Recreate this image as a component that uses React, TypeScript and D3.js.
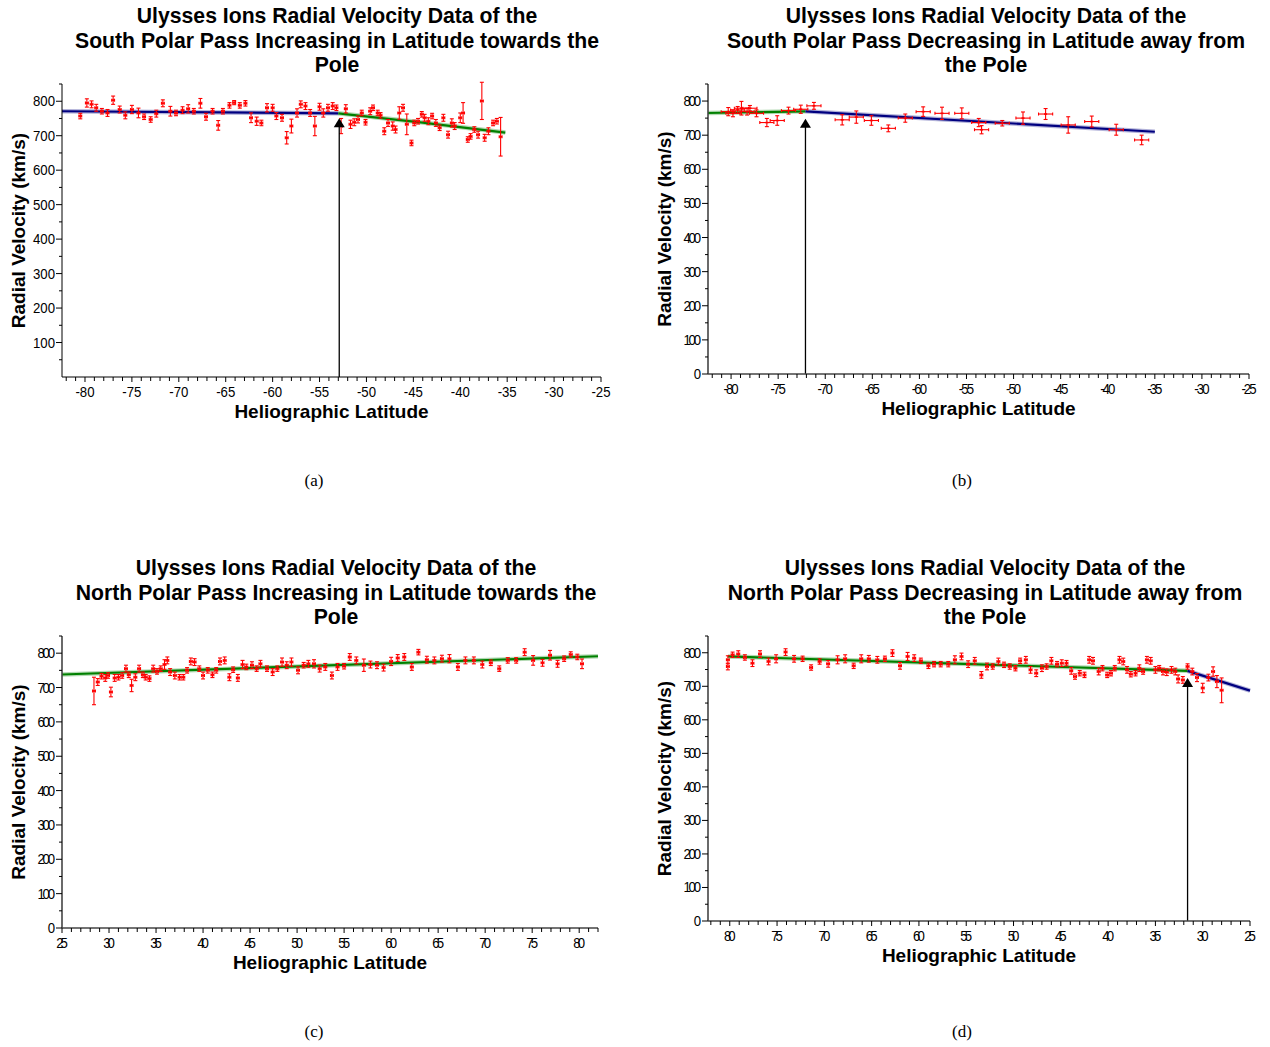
import React from 'react';
import * as d3 from 'd3';

// [latitude, radial velocity (km/s), velocity error]
const southIncreasing: number[][] = [
  [-80.5, 757, 8], [-79.8, 795, 12], [-79.3, 791, 10], [-78.8, 781, 10], [-78.2, 771, 8], [-77.6, 766, 10],
  [-77.0, 803, 12], [-76.3, 776, 10], [-75.7, 759, 10], [-75.0, 776, 12], [-74.3, 766, 14], [-73.7, 755, 8],
  [-73.0, 747, 8], [-72.4, 764, 10], [-71.7, 794, 10], [-70.9, 771, 14], [-70.3, 766, 8], [-69.6, 774, 10],
  [-69.0, 778, 12], [-68.4, 771, 8], [-67.7, 794, 14], [-67.1, 755, 10], [-66.4, 771, 8], [-65.8, 730, 14],
  [-65.3, 771, 8], [-64.6, 788, 8], [-64.1, 796, 6], [-63.5, 788, 8], [-62.9, 794, 8], [-62.3, 752, 14],
  [-61.7, 742, 12], [-61.2, 737, 8], [-60.6, 781, 12], [-60.0, 781, 10], [-59.6, 757, 10], [-59.0, 752, 10],
  [-58.5, 694, 18], [-58.0, 728, 20], [-57.4, 766, 12], [-57.0, 791, 10], [-56.5, 786, 10], [-56.0, 766, 10],
  [-55.5, 728, 28], [-55.0, 784, 10], [-54.6, 766, 12], [-54.1, 781, 10], [-53.6, 786, 10], [-53.2, 781, 8],
  [-52.7, 728, 22], [-52.2, 778, 12], [-51.7, 733, 12], [-51.3, 739, 10], [-50.9, 747, 10], [-50.5, 766, 8],
  [-50.1, 739, 8], [-49.6, 771, 10], [-49.3, 781, 8], [-48.8, 766, 8], [-48.5, 759, 8], [-48.1, 713, 10],
  [-47.7, 737, 10], [-47.2, 728, 12], [-46.9, 718, 10], [-46.5, 766, 18], [-46.1, 781, 10], [-45.7, 733, 30],
  [-45.2, 679, 8], [-44.9, 737, 8], [-44.5, 742, 8], [-44.1, 762, 8], [-43.8, 752, 10], [-43.4, 742, 10],
  [-43.0, 757, 8], [-42.6, 737, 10], [-42.2, 723, 8], [-41.8, 752, 10], [-41.3, 703, 10], [-40.9, 737, 12],
  [-40.6, 728, 10], [-40.0, 752, 14], [-39.7, 766, 30], [-39.2, 689, 8], [-38.9, 698, 8], [-38.5, 718, 8],
  [-38.1, 703, 10], [-37.7, 801, 54], [-37.4, 694, 10], [-37.0, 713, 10], [-36.5, 737, 8], [-36.1, 742, 8],
  [-35.7, 697, 56],
];

const southDecreasing: number[][] = [
  [-80.3, 769, 12], [-79.8, 764, 10], [-79.3, 774, 10], [-78.9, 779, 20], [-78.3, 769, 10], [-78.0, 779, 8],
  [-77.3, 764, 10], [-76.2, 737, 12], [-75.1, 743, 14], [-73.9, 772, 10], [-72.6, 776, 12], [-71.2, 786, 10],
  [-68.2, 745, 15], [-66.7, 753, 18], [-65.1, 743, 14], [-63.3, 720, 10], [-61.5, 750, 12], [-59.6, 769, 14],
  [-57.6, 764, 18], [-55.5, 764, 16], [-53.7, 737, 12], [-53.4, 716, 12], [-51.2, 735, 8], [-49.0, 750, 18],
  [-46.6, 762, 16], [-44.2, 730, 24], [-41.7, 740, 16], [-39.1, 716, 16], [-36.4, 686, 14],
];

const northIncreasing: number[][] = [
  [28.4, 690, 40], [28.8, 716, 10], [29.2, 733, 8], [29.6, 728, 10], [29.9, 735, 8], [30.2, 687, 14],
  [30.6, 728, 10], [31.0, 730, 8], [31.4, 735, 8], [31.8, 755, 10], [32.1, 737, 8], [32.4, 706, 18],
  [32.8, 730, 10], [33.2, 755, 10], [33.6, 737, 8], [33.9, 730, 8], [34.3, 726, 8], [34.7, 755, 10],
  [35.1, 747, 8], [35.5, 755, 8], [35.9, 767, 14], [36.2, 779, 10], [36.5, 745, 10], [37.0, 735, 10],
  [37.5, 730, 8], [37.9, 730, 8], [38.3, 750, 8], [38.7, 776, 10], [39.1, 774, 10], [39.6, 755, 8],
  [40.0, 735, 10], [40.5, 750, 8], [41.0, 737, 8], [41.4, 750, 8], [41.8, 776, 10], [42.3, 779, 10],
  [42.8, 730, 10], [43.2, 752, 8], [43.7, 728, 10], [44.2, 767, 12], [44.6, 760, 8], [45.2, 765, 10],
  [45.7, 755, 8], [46.1, 769, 10], [46.8, 755, 8], [47.4, 745, 10], [47.9, 755, 8], [48.4, 774, 12],
  [48.9, 765, 10], [49.4, 774, 12], [50.1, 750, 10], [50.7, 765, 8], [51.2, 769, 10], [51.8, 769, 12],
  [52.4, 755, 10], [53.0, 760, 10], [53.7, 735, 10], [54.3, 760, 10], [55.0, 762, 8], [55.6, 789, 10],
  [56.3, 779, 10], [57.1, 765, 18], [57.8, 767, 10], [58.5, 765, 10], [59.2, 758, 10], [60.0, 776, 12],
  [60.7, 786, 10], [61.4, 789, 10], [62.2, 760, 10], [62.9, 803, 8], [63.8, 781, 10], [64.6, 779, 10],
  [65.4, 784, 10], [66.2, 784, 12], [67.1, 760, 10], [67.9, 779, 10], [68.8, 779, 10], [69.7, 767, 10],
  [70.6, 772, 8], [71.5, 755, 8], [72.4, 779, 8], [73.3, 779, 8], [74.2, 803, 10], [75.1, 779, 14],
  [76.1, 772, 10], [76.9, 794, 14], [77.7, 769, 10], [78.4, 784, 8], [79.1, 796, 8], [79.8, 789, 8],
  [80.3, 769, 14],
];

const northDecreasing: number[][] = [
  [80.2, 779, 12], [80.2, 759, 10], [79.7, 794, 8], [79.1, 796, 10], [78.4, 786, 8], [77.6, 769, 10],
  [76.8, 796, 10], [75.9, 774, 10], [75.1, 782, 12], [74.1, 802, 10], [73.2, 782, 10], [72.3, 782, 8],
  [71.4, 756, 8], [70.5, 774, 8], [69.6, 767, 10], [68.6, 779, 12], [67.8, 782, 12], [66.9, 761, 8],
  [66.1, 782, 12], [65.3, 782, 10], [64.4, 779, 10], [63.6, 782, 8], [62.8, 799, 10], [62.0, 761, 10],
  [61.2, 789, 12], [60.5, 784, 10], [59.8, 776, 8], [59.0, 761, 8], [58.4, 766, 8], [57.7, 766, 8],
  [56.9, 766, 8], [56.2, 779, 12], [55.5, 789, 10], [54.8, 766, 10], [54.1, 776, 10], [53.4, 734, 10],
  [52.8, 759, 10], [52.2, 759, 8], [51.6, 774, 10], [51.0, 764, 8], [50.4, 759, 8], [49.8, 754, 8],
  [49.3, 776, 8], [48.7, 779, 10], [48.2, 749, 10], [47.6, 739, 10], [47.0, 754, 10], [46.5, 759, 8],
  [46.0, 776, 10], [45.4, 766, 8], [44.9, 769, 10], [44.4, 769, 8], [43.9, 746, 10], [43.5, 729, 8],
  [43.0, 739, 8], [42.5, 734, 8], [42.0, 779, 10], [41.6, 776, 10], [41.0, 744, 10], [40.6, 754, 8],
  [40.1, 734, 8], [39.7, 739, 8], [39.3, 754, 8], [38.8, 779, 10], [38.4, 774, 10], [38.0, 749, 10],
  [37.6, 736, 8], [37.1, 739, 8], [36.7, 754, 10], [36.3, 744, 8], [35.9, 779, 10], [35.5, 776, 10],
  [35.0, 749, 10], [34.6, 754, 8], [34.2, 744, 10], [33.8, 742, 10], [33.3, 749, 10], [32.9, 744, 10],
  [32.6, 722, 12], [32.1, 719, 10], [31.6, 759, 8], [31.1, 744, 10], [30.6, 726, 12], [30.0, 695, 14],
  [29.4, 726, 10], [28.9, 744, 14], [28.5, 714, 18], [28.0, 688, 37],
];

// fitted curves [latitude, velocity]
const fitA1 = [[-82.45, 771], [-53, 765]];
const fitA2 = [[-53, 765], [-44, 738], [-35.2, 709]];
const fitB1 = [[-82.45, 765], [-72.1, 770]];
const fitB2 = [[-72.1, 770], [-35, 710]];
const fitC1 = [[25, 738], [82, 791]];
const fitD1 = [[80.2, 789], [31.6, 746]];
const fitD2 = [[31.6, 746], [25, 687]];

const titles = [
  ['Ulysses Ions Radial Velocity Data of the', 'South Polar Pass Increasing in Latitude towards the', 'Pole'],
  ['Ulysses Ions Radial Velocity Data of the', 'South Polar Pass Decreasing in Latitude away from', 'the Pole'],
  ['Ulysses Ions Radial Velocity Data of the', 'North Polar Pass Increasing in Latitude towards the', 'Pole'],
  ['Ulysses Ions Radial Velocity Data of the', 'North Polar Pass Decreasing in Latitude away from', 'the Pole'],
];
const captions = ['(a)', '(b)', '(c)', '(d)'];

const NAVY = '#000080';
const GREEN = '#008000';
const RED = '#ff0000';
const SANS = 'Liberation Sans, Arial, sans-serif';

const labelWidth = (s: string) => s.split('').reduce((a, c) => a + (c === '-' ? 5 : 8.34), 0);

function Panel({ cfg }: { cfg: any }) {
  const { left, right, top, bottom, xDomain, points, xErr, fits, arrow, yFrom, squeeze } = cfg;
  const x = d3.scaleLinear().domain(xDomain).range([left, right]);
  const y = d3.scaleLinear().domain([0, 850]).range([bottom, top]);
  const lo = Math.min(...xDomain), hi = Math.max(...xDomain);
  const majorX = d3.range(Math.ceil(lo / 5) * 5, hi + 1e-6, 5);
  const minorX = d3.range(Math.ceil(lo), hi + 1e-6, 1).filter(v => v % 5 !== 0);
  const majorY = d3.range(yFrom, 801, 100);
  const minorY = d3.range(50, 851, 100);
  const line = d3.line<number[]>().x(d => x(d[0])).y(d => y(d[1]));
  const axisColor = squeeze ? '#444' : '#000';
  const axisW = squeeze ? 1.6 : 1;
  const cx = (left + right) / 2;

  // squeezed labels mimic the overlapping digits of the original export
  const tickLabel = (s: string, tx: number, ty: number, anchor: string) => (
    <text key={s + tx + ty} transform={`translate(${tx},${ty}) scale(0.88,1)`} textAnchor={anchor}
      fontSize={15} fontFamily={SANS}
      {...(squeeze && s.length > 1 ? { textLength: labelWidth(s) * 0.8, lengthAdjust: 'spacing' } : {})}>
      {s}
    </text>
  );

  return (
    <g>
      {cfg.title.map((t: string, i: number) => (
        <text key={t} x={cfg.titleX} y={cfg.titleY + i * 24.5} textAnchor="middle" fontSize={21.2}
          fontWeight="bold" fontFamily={SANS}>{t}</text>
      ))}

      {/* fitted curves */}
      {fits.map((f: any, i: number) => (
        <g key={i}>
          <path d={line(f.pts) || ''} fill="none" stroke={f.color} strokeOpacity={0.3} strokeWidth={4.5} />
          <path d={line(f.pts) || ''} fill="none" stroke={f.color} strokeWidth={2.2} />
        </g>
      ))}

      {/* data with error bars */}
      <g stroke={RED} strokeWidth={1.1} fill="none">
        {points.map((p: number[], i: number) => {
          const px = x(p[0]), py = y(p[1]);
          const y0 = y(p[1] - p[2]), y1 = y(p[1] + p[2]);
          const x0 = x(p[0] - xErr), x1 = x(p[0] + xErr);
          return (
            <g key={i}>
              <line x1={px} x2={px} y1={y0} y2={y1} />
              <line x1={px - 2} x2={px + 2} y1={y0} y2={y0} />
              <line x1={px - 2} x2={px + 2} y1={y1} y2={y1} />
              <line x1={Math.min(x0, x1)} x2={Math.max(x0, x1)} y1={py} y2={py} />
              <line x1={x0} x2={x0} y1={py - 1.5} y2={py + 1.5} />
              <line x1={x1} x2={x1} y1={py - 1.5} y2={py + 1.5} />
              <line x1={px - 1.5} x2={px + 1.5} y1={py} y2={py} strokeWidth={1.6} />
            </g>
          );
        })}
      </g>

      {/* transition arrow */}
      {arrow && (
        <g>
          <line x1={x(arrow[0])} x2={x(arrow[0])} y1={bottom} y2={y(arrow[1]) + 6} stroke="#000" strokeWidth={1.3} />
          <path d={`M${x(arrow[0])},${y(arrow[1])} l-5.5,9 l11,0 Z`} fill="#000" />
        </g>
      )}

      {/* axes */}
      <line x1={left} x2={right} y1={bottom} y2={bottom} stroke={axisColor} strokeWidth={axisW} />
      <line x1={left} x2={left} y1={bottom} y2={top} stroke={axisColor} strokeWidth={axisW} />
      {majorX.map(v => (
        <line key={'mx' + v} x1={x(v)} x2={x(v)} y1={bottom} y2={bottom + 5} stroke="#000" />
      ))}
      {minorX.map(v => (
        <line key={'nx' + v} x1={x(v)} x2={x(v)} y1={bottom} y2={bottom + 4} stroke="#000" />
      ))}
      {majorX.map(v => tickLabel(String(v), x(v), bottom + 20, 'middle'))}
      {majorY.map(v => (
        <line key={'my' + v} x1={left - 6} x2={left} y1={y(v)} y2={y(v)} stroke="#000" />
      ))}
      {minorY.map(v => (
        <line key={'ny' + v} x1={left - 3} x2={left} y1={y(v)} y2={y(v)} stroke="#000" />
      ))}
      {majorY.map(v => tickLabel(String(v), left - 7, y(v) + 5, 'end'))}

      <text x={cx} y={bottom + 41} textAnchor="middle" fontSize={19} fontWeight="bold"
        fontFamily={SANS}>Heliographic Latitude</text>
      <text transform={`translate(${left - 37},${(top + bottom) / 2}) rotate(-90)`} textAnchor="middle" fontSize={19}
        fontWeight="bold" fontFamily={SANS}>Radial Velocity (km/s)</text>

      <text x={cfg.capX} y={cfg.capY} textAnchor="middle" fontSize={17}
        fontFamily="Liberation Serif, Times New Roman, serif">{cfg.caption}</text>
    </g>
  );
}

export default function App() {
  const panels = [
    {
      title: titles[0], caption: captions[0], titleX: 337, titleY: 23, capX: 314, capY: 486,
      left: 62, right: 601, top: 84, bottom: 377, xDomain: [-82.45, -25], yFrom: 100, squeeze: false,
      points: southIncreasing, xErr: 0.15,
      fits: [{ pts: fitA1, color: NAVY }, { pts: fitA2, color: GREEN }], arrow: [-52.9, 751],
    },
    {
      title: titles[1], caption: captions[1], titleX: 986, titleY: 23, capX: 962, capY: 486,
      left: 708, right: 1249, top: 84, bottom: 374, xDomain: [-82.45, -25], yFrom: 0, squeeze: true,
      points: southDecreasing, xErr: 0.75,
      fits: [{ pts: fitB1, color: GREEN }, { pts: fitB2, color: NAVY }], arrow: [-72.1, 748],
    },
    {
      title: titles[2], caption: captions[2], titleX: 336, titleY: 575, capX: 314, capY: 1037,
      left: 62, right: 598, top: 636, bottom: 928, xDomain: [25, 82], yFrom: 0, squeeze: true,
      points: northIncreasing, xErr: 0.15,
      fits: [{ pts: fitC1, color: GREEN }],
    },
    {
      title: titles[3], caption: captions[3], titleX: 985, titleY: 575, capX: 962, capY: 1037,
      left: 708, right: 1250, top: 636, bottom: 921, xDomain: [82.3, 25], yFrom: 0, squeeze: true,
      points: northDecreasing, xErr: 0.15,
      fits: [{ pts: fitD1, color: GREEN }, { pts: fitD2, color: NAVY }], arrow: [31.6, 725],
    },
  ];
  return (
    <svg width={1270} height={1047} style={{ position: 'absolute', left: 0, top: 0, background: '#fff' }}>
      <rect width={1270} height={1047} fill="#fff" />
      {panels.map((p, i) => <Panel key={i} cfg={p} />)}
    </svg>
  );
}
